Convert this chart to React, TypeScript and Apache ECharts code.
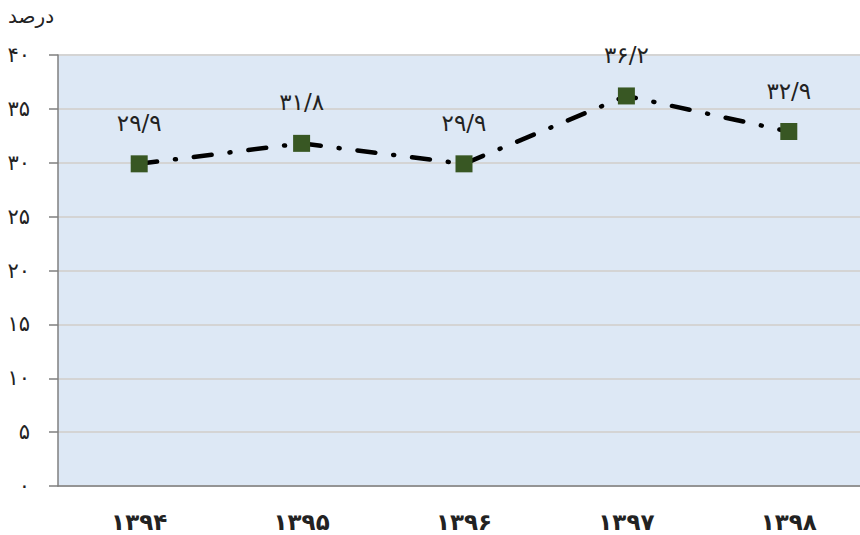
import React, { useEffect, useRef } from "react";
import * as echarts from "echarts";

const categories = ["۱۳۹۴", "۱۳۹۵", "۱۳۹۶", "۱۳۹۷", "۱۳۹۸"];
const values = [29.9, 31.8, 29.9, 36.2, 32.9];
const valueLabels = ["۲۹/۹", "۳۱/۸", "۲۹/۹", "۳۶/۲", "۳۲/۹"];
const yTickLabels = ["۰", "۵", "۱۰", "۱۵", "۲۰", "۲۵", "۳۰", "۳۵", "۴۰"];
const yUnit = "درصد";

const FONT = "'DejaVu Sans', 'Noto Sans', sans-serif";

export default function App() {
  const ref = useRef<HTMLDivElement>(null);
  useEffect(() => {
    document.body.style.margin = "0";
    if (!ref.current) return;
    const chart = echarts.init(ref.current, undefined, { renderer: "svg" });
    chart.setOption({
      animation: false,
      grid: {
        left: 58,
        top: 55,
        height: 431,
        width: 812,
        outerBoundsMode: "none",
        containLabel: false,
        show: true,
        backgroundColor: "#dde8f5",
        borderWidth: 0,
      },
      graphic: [
        {
          type: "text",
          left: 8,
          top: 6,
          style: { text: yUnit, font: `20px ${FONT}`, fill: "#222" },
        },
      ],
      xAxis: {
        type: "category",
        data: categories,
        boundaryGap: true,
        axisLine: { show: true, lineStyle: { color: "#7f7f7f", width: 1.5 } },
        axisTick: { show: false },
        axisLabel: {
          margin: 24,
          fontSize: 23,
          fontWeight: "bold",
          fontFamily: FONT,
          color: "#222",
        },
        splitLine: { show: false },
      },
      yAxis: {
        type: "value",
        min: 0,
        max: 40,
        interval: 5,
        axisLine: { show: true, lineStyle: { color: "#7f7f7f", width: 1.5 } },
        axisTick: {
          show: true,
          inside: false,
          length: 9,
          lineStyle: { color: "#7f7f7f", width: 1.5 },
        },
        axisLabel: {
          margin: 28,
          fontSize: 21,
          fontFamily: FONT,
          color: "#222",
          formatter: (v: number) => yTickLabels[Math.round(v / 5)] ?? "",
        },
        splitLine: { show: true, lineStyle: { color: "#d4d4d4", width: 2 } },
      },
      series: [
        {
          type: "line",
          data: values,
          symbol: "rect",
          symbolSize: 17,
          itemStyle: { color: "#385723" },
          lineStyle: {
            color: "#000",
            width: 4.5,
            type: [18, 18, 1, 18],
            cap: "round",
          },
          label: {
            show: true,
            position: "top",
            distance: 21,
            fontSize: 23,
            fontFamily: FONT,
            color: "#222",
            formatter: (p: any) => valueLabels[p.dataIndex],
          },
        },
      ],
    });
    return () => chart.dispose();
  }, []);
  return <div ref={ref} style={{ width: 860, height: 535 }} />;
}
